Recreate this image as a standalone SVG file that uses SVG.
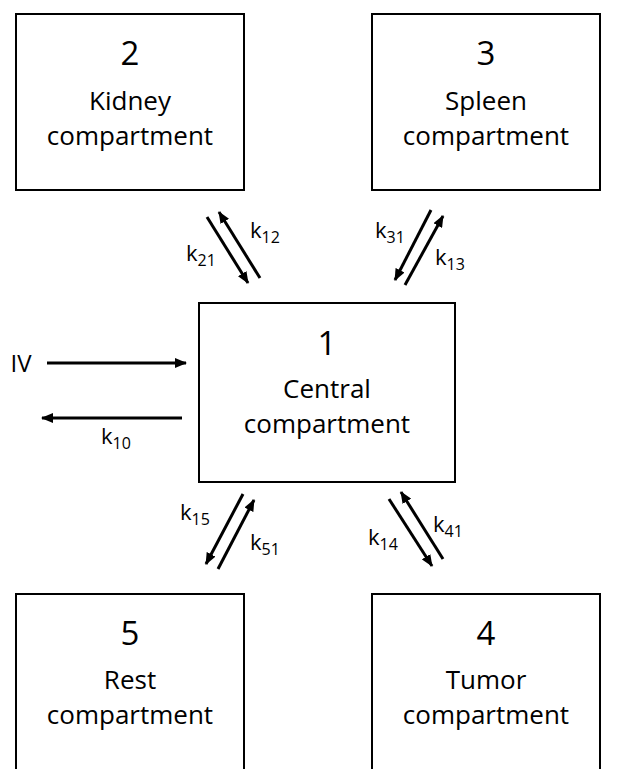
<svg xmlns="http://www.w3.org/2000/svg" width="619" height="769" viewBox="0 0 619 769">
<defs>
<marker id="ah" markerWidth="12" markerHeight="10" refX="11" refY="5" orient="auto" markerUnits="userSpaceOnUse">
<path d="M0,0 L12,5 L0,10 z" fill="#000"/>
</marker>
<style>
.box{fill:#fff;stroke:#000;stroke-width:2}
.t{font-family:"Open Sans","Noto Sans",sans-serif;fill:#000;text-anchor:middle}
.num{font-size:33px}
.lbl{font-size:26px}
.k{font-family:"Open Sans","Noto Sans",sans-serif;font-size:22px;fill:#000}
.s{font-size:16px}
.a{stroke:#000;stroke-width:3;fill:none;marker-end:url(#ah)}
</style>
</defs>
<rect width="619" height="769" fill="#fff"/>
<g id="node2">
<rect class="box" x="16" y="14" width="228" height="176"/>
<text class="t num" x="130" y="65">2</text>
<text class="t lbl" x="130" y="110">Kidney</text>
<text class="t lbl" x="130" y="145">compartment</text>
</g>
<g id="node3">
<rect class="box" x="372" y="14" width="228" height="176"/>
<text class="t num" x="486" y="65">3</text>
<text class="t lbl" x="486" y="110">Spleen</text>
<text class="t lbl" x="486" y="145">compartment</text>
</g>
<g id="node1">
<rect class="box" x="199" y="303" width="256" height="179"/>
<text class="t num" x="327" y="355">1</text>
<text class="t lbl" x="327" y="398">Central</text>
<text class="t lbl" x="327" y="433">compartment</text>
</g>
<g id="node5">
<rect class="box" x="16" y="594" width="228" height="185"/>
<text class="t num" x="130" y="645">5</text>
<text class="t lbl" x="130" y="689">Rest</text>
<text class="t lbl" x="130" y="724">compartment</text>
</g>
<g id="node4">
<rect class="box" x="372" y="594" width="228" height="185"/>
<text class="t num" x="486" y="645">4</text>
<text class="t lbl" x="486" y="689">Tumor</text>
<text class="t lbl" x="486" y="724">compartment</text>
</g>
<g id="connectors">
<line class="a" x1="207" y1="217" x2="248" y2="283"/>
<line class="a" x1="260" y1="278" x2="219" y2="212"/>
<line class="a" x1="431" y1="210" x2="395" y2="280"/>
<line class="a" x1="405" y1="285" x2="443" y2="216"/>
<line class="a" x1="47" y1="363" x2="186" y2="363"/>
<line class="a" x1="182" y1="418" x2="42" y2="418"/>
<line class="a" x1="243" y1="494" x2="206" y2="564"/>
<line class="a" x1="218" y1="569" x2="254" y2="500"/>
<line class="a" x1="389" y1="499" x2="432" y2="566"/>
<line class="a" x1="443" y1="559" x2="401" y2="492"/>
</g>
<g id="labels">
<text class="k" x="186" y="261">k<tspan class="s" dy="5">21</tspan></text>
<text class="k" x="250" y="238">k<tspan class="s" dy="5">12</tspan></text>
<text class="k" x="375" y="238">k<tspan class="s" dy="5">31</tspan></text>
<text class="k" x="435" y="265">k<tspan class="s" dy="5">13</tspan></text>
<text class="t" style="font-size:24px" x="21" y="372">IV</text>
<text class="k" x="101" y="444">k<tspan class="s" dy="5">10</tspan></text>
<text class="k" x="180" y="520">k<tspan class="s" dy="5">15</tspan></text>
<text class="k" x="250" y="550">k<tspan class="s" dy="5">51</tspan></text>
<text class="k" x="368" y="545">k<tspan class="s" dy="5">14</tspan></text>
<text class="k" x="433" y="532">k<tspan class="s" dy="5">41</tspan></text>
</g>
</svg>
